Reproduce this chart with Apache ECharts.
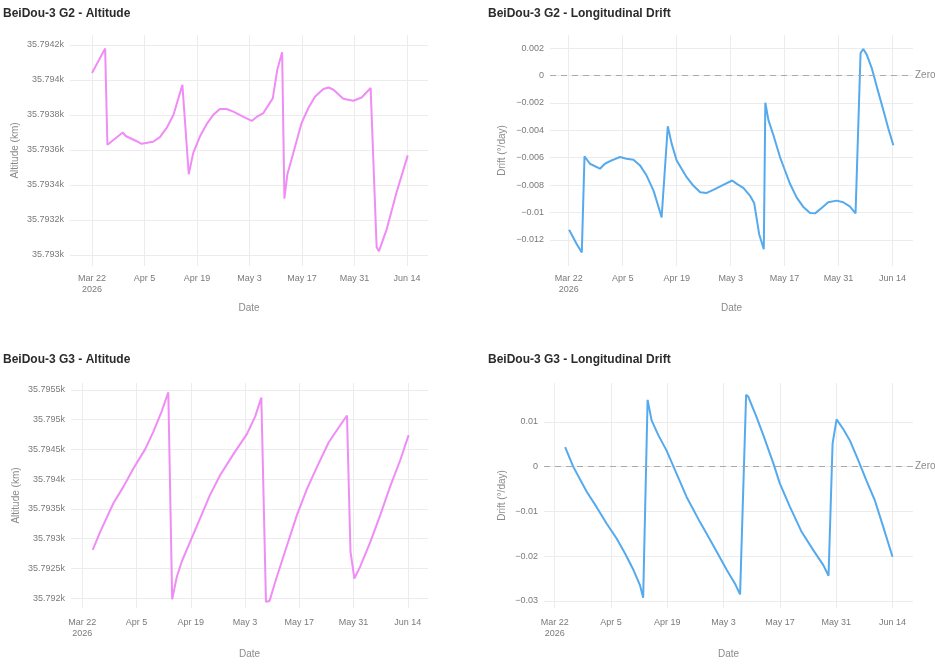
<!DOCTYPE html>
<html>
<head>
<meta charset="utf-8">
<script src="https://cdn.jsdelivr.net/npm/echarts@6/dist/echarts.min.js"></script>
<style>
  html, body { margin: 0; padding: 0; background: #fff; }
  #main { width: 935px; height: 671px; }
</style>
</head>
<body>
<div id="main"></div>
<script>
// days counted from Mar 22 2026
const START = Date.UTC(2026, 2, 22);
const MONTHS = ['Jan', 'Feb', 'Mar', 'Apr', 'May', 'Jun', 'Jul', 'Aug', 'Sep', 'Oct', 'Nov', 'Dec'];

const g2AltDays = [0, 3.5, 4.1, 8.2, 9, 11.9, 13.2, 16.3, 18.1, 19.9, 21.7, 24.1, 25.8, 27, 28.8, 30.6, 32.4, 34.1, 35.9, 37.7, 40.4, 42.6, 43.9, 45.7, 48.2, 49.4, 50.7, 51.3, 52.1, 53.7, 55.9, 57.7, 59.5, 61.7, 63.1, 64.4, 67, 69.7, 71.9, 74.3, 75.9, 76.5, 78.6, 81.2, 84.2];
const g2AltKm = [35794.04, 35794.18, 35793.63, 35793.70, 35793.68, 35793.65, 35793.635, 35793.647, 35793.673, 35793.726, 35793.80, 35793.972, 35793.461, 35793.584, 35793.678, 35793.749, 35793.802, 35793.834, 35793.834, 35793.819, 35793.789, 35793.766, 35793.789, 35793.811, 35793.895, 35794.058, 35794.158, 35793.322, 35793.461, 35793.584, 35793.755, 35793.840, 35793.906, 35793.948, 35793.957, 35793.944, 35793.893, 35793.881, 35793.90, 35793.954, 35793.044, 35793.021, 35793.148, 35793.357, 35793.569];

const g2DriftDays = [0.1, 2.1, 3.4, 4.1, 5.5, 8.1, 9.4, 11.1, 11.8, 13.3, 15, 16.8, 18.5, 20.2, 22, 23.2, 24.1, 25.7, 26.7, 28, 30.6, 32.3, 34.1, 35.8, 37.5, 40.1, 42.4, 43.6, 45.3, 47, 48.1, 49.4, 50.6, 51, 51.8, 53.1, 54.8, 56.1, 57.4, 59.1, 60.8, 62.6, 63.9, 65.6, 67.3, 69.5, 71.2, 72.9, 74.4, 75.7, 76.4, 77.3, 78.6, 79.9, 81.6, 82.9, 84.2];
const g2Drift = [-0.01126, -0.01231, -0.01292, -0.0059, -0.00644, -0.0068, -0.00644, -0.0062, -0.00612, -0.00595, -0.00607, -0.00614, -0.00656, -0.0073, -0.0084, -0.0095, -0.01035, -0.0037, -0.00497, -0.0062, -0.00742, -0.00803, -0.00852, -0.00857, -0.00835, -0.00798, -0.00766, -0.00791, -0.0082, -0.00876, -0.0093, -0.01158, -0.01268, -0.00198, -0.00326, -0.00436, -0.00595, -0.00693, -0.0079, -0.00889, -0.00957, -0.01004, -0.01006, -0.00967, -0.00925, -0.00913, -0.00925, -0.00955, -0.01006, 0.00164, 0.00193, 0.00152, 0.00054, -0.00081, -0.00252, -0.00387, -0.00509];

const g3AltDays = [2.7, 4.6, 8.0, 10.6, 13.2, 16.2, 18.3, 20.5, 22.2, 23.2, 24.4, 25.7, 27.8, 30.4, 33, 35.6, 39, 42.5, 44.6, 46.2, 47.4, 48.3, 50.2, 52.8, 55.4, 58, 60.6, 63.6, 66.6, 68.3, 69.2, 70.2, 71.7, 74.3, 76.9, 79.4, 82.1, 84.2];
const g3AltKm = [35792.81, 35793.11, 35793.59, 35793.87, 35794.18, 35794.50, 35794.79, 35795.14, 35795.46, 35791.98, 35792.36, 35792.62, 35792.94, 35793.34, 35793.74, 35794.07, 35794.42, 35794.76, 35795.05, 35795.37, 35791.94, 35791.95, 35792.36, 35792.88, 35793.40, 35793.84, 35794.21, 35794.62, 35794.91, 35795.07, 35792.78, 35792.33, 35792.53, 35792.94, 35793.40, 35793.87, 35794.33, 35794.74];

const g3DriftDays = [2.6, 4.6, 8.0, 10.4, 12.9, 15.4, 17.5, 19.6, 21.2, 22.0, 23.1, 24.1, 25.8, 27.8, 30.3, 32.8, 36.1, 39.4, 42.8, 44.8, 46.1, 47.6, 48.1, 50.2, 51.9, 54.4, 56, 58.5, 61.4, 64.3, 66.8, 68.1, 69.1, 70.1, 71.7, 73.4, 75.5, 77.5, 79.6, 81.7, 84];
const g3Drift = [0.00439, 0.0, -0.00565, -0.009, -0.01271, -0.01606, -0.0194, -0.02312, -0.02647, -0.0293, 0.01494, 0.01033, 0.00699, 0.00364, -0.00156, -0.00677, -0.01234, -0.01755, -0.02312, -0.0261, -0.02855, 0.01606, 0.01569, 0.01108, 0.00699, 0.00067, -0.00379, -0.009, -0.01457, -0.01866, -0.02201, -0.02439, 0.00513, 0.01056, 0.00848, 0.00587, 0.00141, -0.00305, -0.00751, -0.01346, -0.02015];

const FONT = 'Liberation Sans, Arial, sans-serif';
const PINK = '#f08cf5';
const BLUE = '#55aaee';

function pairs(xs, ys) {
  return xs.map((d, i) => [d, ys[i]]);
}

function dateLabel(v) {
  const d = new Date(START + Math.round(v) * 864e5);
  const s = MONTHS[d.getUTCMonth()] + ' ' + d.getUTCDate();
  return Math.round(v) === 0 ? s + '\n2026' : s;
}
const kmLabel = v => +(v / 1000).toFixed(4) + 'k';
const driftLabel = v => String(+v.toFixed(4)).replace('-', '\u2212');

const panels = [
  { title: 'BeiDou-3 G2 - Altitude', tx: 3, ty: 8, grid: [70, 35, 358, 231], x: [-5.87, 89.6], y: [35792.937, 35794.257], yi: 0.2,
    yname: 'Altitude (km)', ygap: 50, xgap: 37, fmt: kmLabel, data: pairs(g2AltDays, g2AltKm), color: PINK, lm: 7 },
  { title: 'BeiDou-3 G2 - Longitudinal Drift', tx: 488, ty: 8, grid: [550, 35, 363, 231], x: [-4.85, 89.3], y: [-0.0139, 0.002956], yi: 0.002,
    yname: 'Drift (°/day)', ygap: 43, xgap: 37, fmt: driftLabel, data: pairs(g2DriftDays, g2Drift), color: BLUE, zero: true, lm: 7 },
  { title: 'BeiDou-3 G3 - Altitude', tx: 3, ty: 354, grid: [71, 383, 357, 225], x: [-2.9, 89.2], y: [35791.834, 35795.616], yi: 0.5,
    yname: 'Altitude (km)', ygap: 50, xgap: 41, fmt: kmLabel, data: pairs(g3AltDays, g3AltKm), color: PINK, lm: 9 },
  { title: 'BeiDou-3 G3 - Longitudinal Drift', tx: 488, ty: 354, grid: [544, 383, 369, 225], x: [-2.66, 89.1], y: [-0.0316, 0.0187], yi: 0.01,
    yname: 'Drift (°/day)', ygap: 37, xgap: 41, fmt: driftLabel, data: pairs(g3DriftDays, g3Drift), color: BLUE, zero: true, lm: 9 }
];

const gridLine = { show: true, lineStyle: { color: '#ececec', width: 1 }, showMinLine: false, showMaxLine: false };
const tickText = { color: '#7a7a7a', fontSize: 9, fontFamily: FONT, showMinLabel: false, showMaxLabel: false };

const option = {
  backgroundColor: '#fff',
  animation: false,
  title: panels.map(p => ({
    text: p.title, left: p.tx, top: p.ty, padding: 0,
    textStyle: { fontSize: 12, fontWeight: 'bold', color: '#2b2b2b', fontFamily: FONT }
  })),
  grid: panels.map(p => ({ left: p.grid[0], top: p.grid[1], width: p.grid[2], height: p.grid[3] })),
  xAxis: panels.map((p, i) => ({
    type: 'value', gridIndex: i, min: p.x[0], max: p.x[1],
    minInterval: 14, maxInterval: 14,
    name: 'Date', nameLocation: 'middle', nameGap: p.xgap,
    nameTextStyle: { color: '#8a8a8a', fontSize: 10, fontFamily: FONT },
    axisLine: { show: false }, axisTick: { show: false },
    axisLabel: Object.assign({}, tickText, { formatter: dateLabel, margin: p.lm, lineHeight: 11 }),
    splitLine: gridLine
  })),
  yAxis: panels.map((p, i) => ({
    type: 'value', gridIndex: i, min: p.y[0], max: p.y[1],
    minInterval: p.yi, maxInterval: p.yi,
    name: p.yname, nameLocation: 'middle', nameGap: p.ygap,
    nameTextStyle: { color: '#8a8a8a', fontSize: 10, fontFamily: FONT },
    axisLine: { show: false }, axisTick: { show: false },
    axisLabel: Object.assign({}, tickText, { formatter: p.fmt, margin: 6 }),
    splitLine: gridLine
  })),
  series: panels.map((p, i) => ({
    type: 'line', xAxisIndex: i, yAxisIndex: i,
    data: p.data, showSymbol: false, smooth: false,
    lineStyle: { color: p.color, width: 2 },
    itemStyle: { color: p.color },
    markLine: p.zero ? {
      silent: true, symbol: 'none',
      lineStyle: { color: '#aaaaaa', type: [6, 5], width: 1.2 },
      label: { position: 'end', formatter: 'Zero', color: '#8a8a8a', fontSize: 10, fontFamily: FONT, distance: 2 },
      data: [{ yAxis: 0 }]
    } : undefined
  }))
};

echarts.init(document.getElementById('main')).setOption(option);
</script>
</body>
</html>
